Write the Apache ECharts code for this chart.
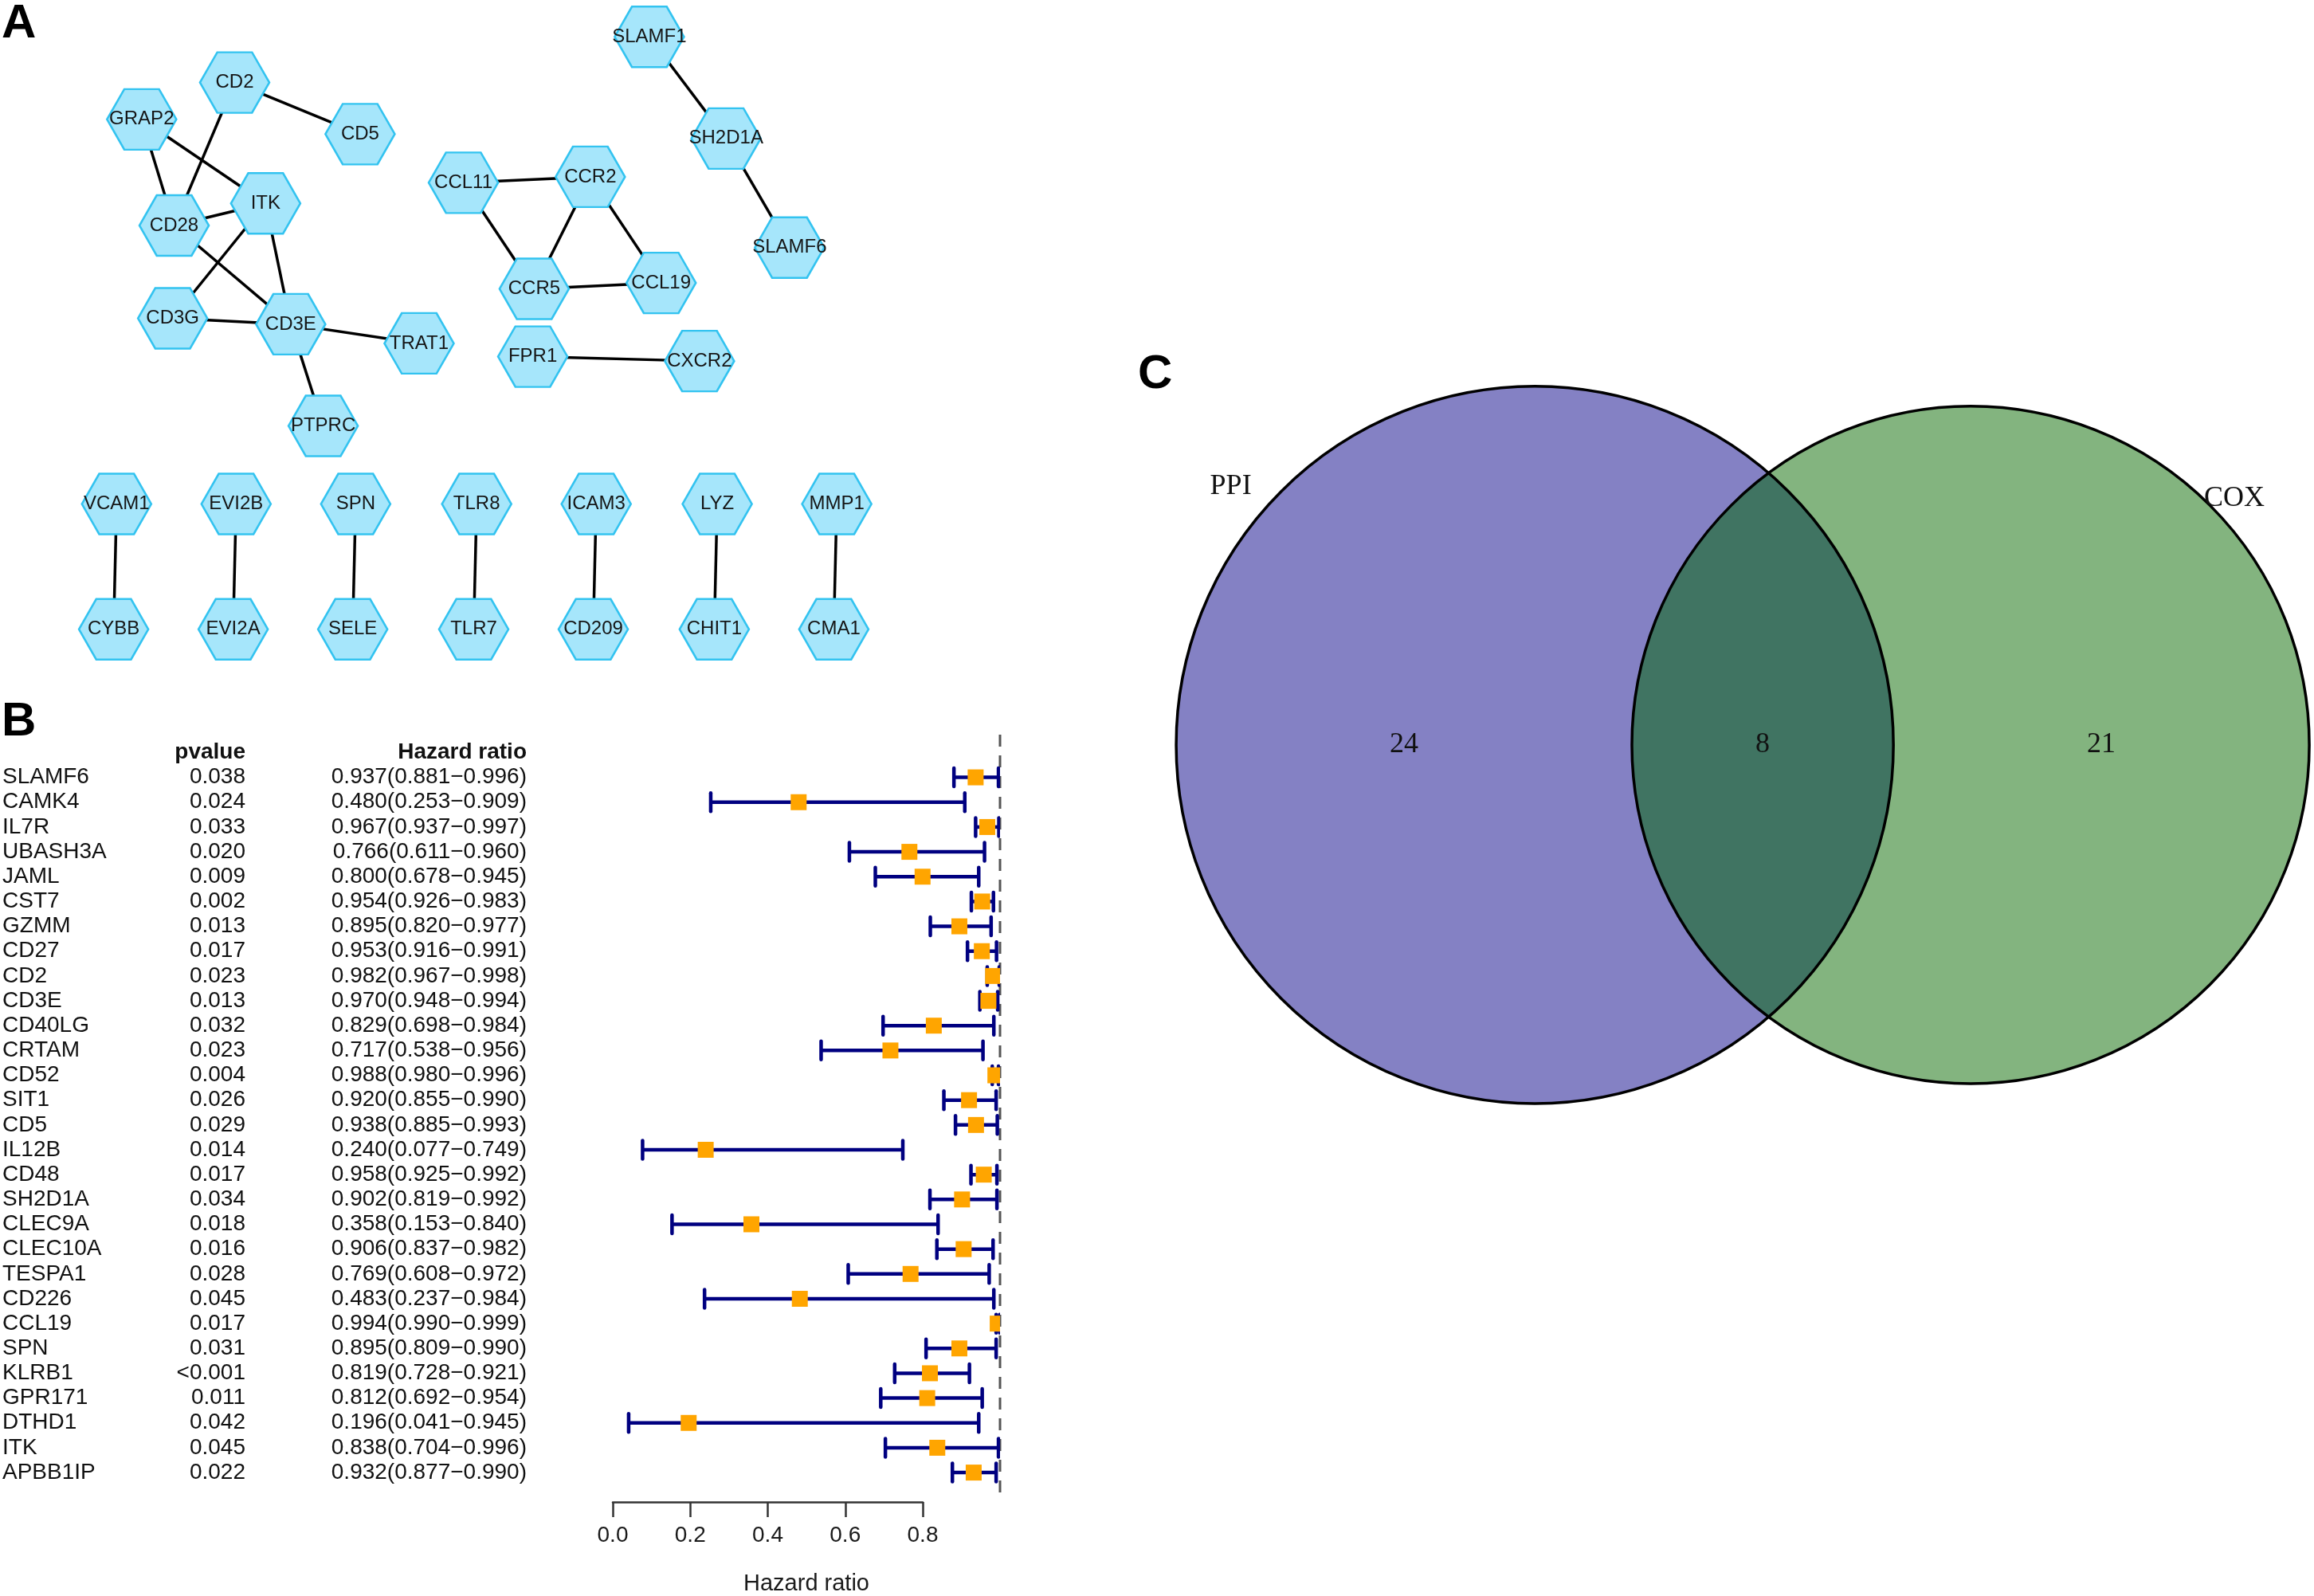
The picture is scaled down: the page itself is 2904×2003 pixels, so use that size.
<!DOCTYPE html>
<html>
<head>
<meta charset="utf-8">
<script src="https://cdn.jsdelivr.net/npm/echarts@6/dist/echarts.min.js"></script>
<style>
html,body{margin:0;padding:0;background:#fff;}
#chart{width:2904px;height:2003px;}
</style>
</head>
<body>
<div id="chart"></div>
<script>
// ---------------- Panel A: PPI network ----------------
const nodeNames = ['SLAMF1','SH2D1A','SLAMF6','CD2','CD5','GRAP2','ITK','CD28','CD3G','CD3E','TRAT1','PTPRC',
  'CCL11','CCR2','CCR5','CCL19','FPR1','CXCR2',
  'VCAM1','EVI2B','SPN','TLR8','ICAM3','LYZ','MMP1',
  'CYBB','EVI2A','SELE','TLR7','CD209','CHIT1','CMA1'];
// node layout positions (figure layout units)
const nodeX = [440,492,535,159,244,96,180,118,117,197,284,219,
  314,400,362,448,361,474,
  79,160,241,323,404,486,567,
  77,158,239,321,402,484,565];
const nodeY = [25,94,168,56,91,81,138,153,216,220,233,289,
  124,120,196,192,242,245,
  342,342,342,342,342,342,342,
  427,427,427,427,427,427,427];
const edgeSource = ['SLAMF1','SH2D1A','CD2','CD2','GRAP2','GRAP2','CD28','CD28','ITK','ITK','CD3G','CD3E','CD3E',
  'CCL11','CCL11','CCR2','CCR2','CCR5','FPR1',
  'VCAM1','EVI2B','SPN','TLR8','ICAM3','LYZ','MMP1'];
const edgeTarget = ['SH2D1A','SLAMF6','CD5','CD28','CD28','ITK','ITK','CD3E','CD3G','CD3E','CD3E','TRAT1','PTPRC',
  'CCR2','CCR5','CCR5','CCL19','CCL19','CXCR2',
  'CYBB','EVI2A','SELE','TLR7','CD209','CHIT1','CMA1'];

// ---------------- Panel B: forest plot ----------------
const genes = ['SLAMF6','CAMK4','IL7R','UBASH3A','JAML','CST7','GZMM','CD27','CD2','CD3E','CD40LG','CRTAM','CD52','SIT1','CD5',
  'IL12B','CD48','SH2D1A','CLEC9A','CLEC10A','TESPA1','CD226','CCL19','SPN','KLRB1','GPR171','DTHD1','ITK','APBB1IP'];
const pvalues = ['0.038','0.024','0.033','0.020','0.009','0.002','0.013','0.017','0.023','0.013','0.032','0.023','0.004','0.026','0.029',
  '0.014','0.017','0.034','0.018','0.016','0.028','0.045','0.017','0.031','<0.001','0.011','0.042','0.045','0.022'];
const hr = [0.937,0.480,0.967,0.766,0.800,0.954,0.895,0.953,0.982,0.970,0.829,0.717,0.988,0.920,0.938,
  0.240,0.958,0.902,0.358,0.906,0.769,0.483,0.994,0.895,0.819,0.812,0.196,0.838,0.932];
const hrLow = [0.881,0.253,0.937,0.611,0.678,0.926,0.820,0.916,0.967,0.948,0.698,0.538,0.980,0.855,0.885,
  0.077,0.925,0.819,0.153,0.837,0.608,0.237,0.990,0.809,0.728,0.692,0.041,0.704,0.877];
const hrHigh = [0.996,0.909,0.997,0.960,0.945,0.983,0.977,0.991,0.998,0.994,0.984,0.956,0.996,0.990,0.993,
  0.749,0.992,0.992,0.840,0.982,0.972,0.984,0.999,0.990,0.921,0.954,0.945,0.996,0.990];
const hrTicks = [0.0,0.2,0.4,0.6,0.8];

// ---------------- Panel C: Venn ----------------
const vennSets = ['PPI','COX'];
const vennCounts = [24, 8, 21]; // PPI only, both, COX only

// layout / styles
const SANS = '"Liberation Sans", Arial, sans-serif';
const SERIF = '"Liberation Serif", "Times New Roman", serif';
const VENN = {c1x:1040, c1y:505.5, r1:243, c2x:1335.3, c2y:505.5, r2:229.5,
  lab1:[834,330], lab2:[1514,338]};

const chart = echarts.init(document.getElementById('chart'), null, {renderer:'canvas'});

const hexPath = 'path://M25 0 L75 0 L100 43.3 L75 86.6 L25 86.6 L0 43.3 Z';

const option = {
  backgroundColor:'#ffffff',
  animation:false,
  grid:[
    {left:0, top:0, width:2904, height:2003},            // full-figure layout grid
    {left:769, top:922, width:486, height:962},          // forest plot region
    {left:769, top:1875, width:389, height:10}           // forest x axis
  ],
  xAxis:[
    {gridIndex:0, type:'value', min:0, max:1568, show:false},
    {gridIndex:1, type:'value', min:0, max:1, axisLine:{show:false}, axisTick:{show:false}, axisLabel:{show:false}, splitLine:{show:false},
      name:'Hazard ratio', nameLocation:'middle', nameGap:90, nameTextStyle:{fontSize:29, fontFamily:SANS, color:'#1a1a1a'}},
    {gridIndex:2, type:'value', min:0, max:0.8, interval:0.2,
      axisLine:{show:true, lineStyle:{color:'#333', width:2.5}},
      axisTick:{show:true, length:19, lineStyle:{color:'#333', width:2.5}},
      axisLabel:{show:true, margin:28, fontSize:28, fontFamily:SANS, color:'#1a1a1a', formatter:v=>v.toFixed(1)},
      splitLine:{show:false}}
  ],
  yAxis:[
    {gridIndex:0, type:'value', min:0, max:1083, inverse:true, show:false},
    {gridIndex:1, type:'value', min:-1.72, max:29.12, inverse:true, show:false},
    {gridIndex:2, type:'value', min:0, max:1, show:false}
  ],
  graphic:[
    {type:'text', left:2, top:0, style:{text:'A', font:'bold 60px '+SANS, fill:'#000'}},
    {type:'text', left:2, top:876, style:{text:'B', font:'bold 60px '+SANS, fill:'#000'}},
    {type:'text', left:1428, top:440, style:{text:'C', font:'bold 60px '+SANS, fill:'#000'}}
  ],
  series:[
    // network
    {
      type:'graph', coordinateSystem:'cartesian2d', xAxisIndex:0, yAxisIndex:0,
      symbol:hexPath, symbolSize:[87,76],
      itemStyle:{color:'#a6e6fb', borderColor:'#33c3f0', borderWidth:2.5},
      label:{show:true, position:'inside', fontSize:24, fontFamily:SANS, color:'#151515'},
      lineStyle:{color:'#000', width:3.5, opacity:1, curveness:0},
      emphasis:{disabled:true},
      data: nodeNames.map((n,i)=>({name:n, value:[nodeX[i], nodeY[i]]})),
      links: edgeSource.map((s,i)=>({source:s, target:edgeTarget[i]})),
      z:2
    },
    // Venn diagram
    {
      type:'custom', xAxisIndex:0, yAxisIndex:0, clip:false, z:2,
      data:[[0]],
      renderItem:function(params, api){
        const p1 = api.coord([VENN.c1x, VENN.c1y]);
        const p2 = api.coord([VENN.c2x, VENN.c2y]);
        const r1 = api.size([VENN.r1, 0])[0];
        const r2 = api.size([VENN.r2, 0])[0];
        const cy = p1[1];
        const d = p2[0]-p1[0];
        const a = (d*d + r1*r1 - r2*r2)/(2*d);
        const h = Math.sqrt(r1*r1 - a*a);
        const t1 = Math.atan2(h, a), t2 = Math.atan2(h, d-a);
        const lens = [];
        const N = 120;
        for(let k=0;k<=N;k++){ const t=-t1+2*t1*k/N; lens.push([p1[0]+r1*Math.cos(t), cy+r1*Math.sin(t)]); }
        for(let k=0;k<=N;k++){ const t=Math.PI-t2+2*t2*k/N; lens.push([p2[0]+r2*Math.cos(t), cy+r2*Math.sin(t)]); }
        const xLeftOnly = ((p1[0]-r1) + (p2[0]-r2))/2;
        const xBoth = ((p2[0]-r2) + (p1[0]+r1))/2;
        const xRightOnly = ((p1[0]+r1) + (p2[0]+r2))/2;
        const l1 = api.coord(VENN.lab1), l2 = api.coord(VENN.lab2);
        const txt = (t,x,y)=>({type:'text', style:{text:String(t), x:x, y:y, font:'36px '+SERIF, fill:'#111', align:'center', verticalAlign:'middle'}});
        return {type:'group', children:[
          {type:'circle', shape:{cx:p1[0], cy:cy, r:r1}, style:{fill:'#8481c4'}},
          {type:'circle', shape:{cx:p2[0], cy:cy, r:r2}, style:{fill:'#83b47f'}},
          {type:'polygon', shape:{points:lens}, style:{fill:'#407462'}},
          {type:'circle', shape:{cx:p1[0], cy:cy, r:r1}, style:{fill:'none', stroke:'#000', lineWidth:3.5}},
          {type:'circle', shape:{cx:p2[0], cy:cy, r:r2}, style:{fill:'none', stroke:'#000', lineWidth:3.5}},
          txt(vennCounts[0], xLeftOnly, cy),
          txt(vennCounts[1], xBoth, cy),
          txt(vennCounts[2], xRightOnly, cy),
          txt(vennSets[0], l1[0], l1[1]),
          txt(vennSets[1], l2[0], l2[1])
        ]};
      }
    },
    // forest: reference dashed line at HR = 1
    {
      type:'line', xAxisIndex:1, yAxisIndex:1, clip:false, symbol:'none', z:1,
      data:[[1,-1.72],[1,29.12]],
      lineStyle:{color:'#555', width:3, type:[15,11]}
    },
    // forest: error bars and squares
    {
      type:'custom', xAxisIndex:1, yAxisIndex:1, clip:true, z:3,
      data: genes.map((g,i)=>[i, hr[i], hrLow[i], hrHigh[i]]),
      encode:{x:[1,2,3], y:0},
      renderItem:function(params, api){
        const i = api.value(0);
        const ph = api.coord([api.value(1), i]);
        const pl = api.coord([api.value(2), i]);
        const pu = api.coord([api.value(3), i]);
        const col = '#000080', lw = 4.5, capH = 23, sq = 20;
        return {type:'group', children:[
          {type:'line', shape:{x1:pl[0], y1:pl[1], x2:pu[0], y2:pu[1]}, style:{stroke:col, lineWidth:lw}},
          {type:'line', shape:{x1:pl[0], y1:pl[1]-capH/2, x2:pl[0], y2:pl[1]+capH/2}, style:{stroke:col, lineWidth:lw, lineCap:'round'}},
          {type:'line', shape:{x1:pu[0], y1:pu[1]-capH/2, x2:pu[0], y2:pu[1]+capH/2}, style:{stroke:col, lineWidth:lw, lineCap:'round'}},
          {type:'rect', shape:{x:ph[0]-sq/2, y:ph[1]-sq/2, width:sq, height:sq}, style:{fill:'#ffa500'}}
        ]};
      }
    },
    // forest: table text
    {
      type:'custom', xAxisIndex:1, yAxisIndex:1, clip:false, z:3,
      data: [[-1]].concat(genes.map((g,i)=>[i])),
      renderItem:function(params, api){
        const i = api.value(0);
        const y = api.coord([0, i])[1];
        const t = (s,x,align,bold)=>({type:'text', style:{text:s, x:x, y:y, font:(bold?'bold ':'')+'28px '+SANS, fill:'#111', align:align, verticalAlign:'middle'}});
        if(i < 0){
          return {type:'group', children:[t('pvalue',308,'right',true), t('Hazard ratio',661,'right',true)]};
        }
        const hrText = hr[i].toFixed(3)+'('+hrLow[i].toFixed(3)+'\u2212'+hrHigh[i].toFixed(3)+')';
        return {type:'group', children:[t(genes[i],3,'left',false), t(pvalues[i],308,'right',false), t(hrText,661,'right',false)]};
      }
    }
  ]
};
chart.setOption(option);
</script>
</body>
</html>
